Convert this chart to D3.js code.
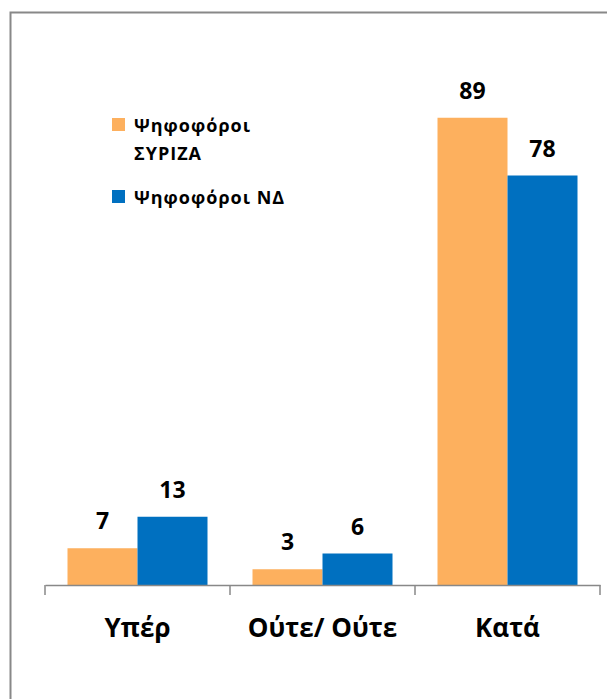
<!DOCTYPE html>
<html><head><meta charset="utf-8">
<script src="https://cdn.jsdelivr.net/npm/d3@7"></script>
<style>body{margin:0;background:#fff}svg{display:block}</style>
</head><body>
<script>
const categories = ["Υπέρ", "Ούτε/ Ούτε", "Κατά"];
const seriesNames = ["Ψηφοφόροι ΣΥΡΙΖΑ", "Ψηφοφόροι ΝΔ"];
const syrizaValues = [7, 3, 89];
const ndValues = [13, 6, 78];
const colors = ["#FDB05E", "#0070C0"];

const W = 607, H = 699;
const svg = d3.select("body").append("svg").attr("width", W).attr("height", H);
const font = "'Open Sans', 'Noto Sans', sans-serif";

// outer border
svg.append("rect").attr("x", 10.5).attr("y", 12.5).attr("width", 620).attr("height", 720)
  .attr("fill", "none").attr("stroke", "#888").attr("stroke-width", 2);

const x0 = d3.scaleBand().domain(categories).range([45, 600]).paddingInner(0).paddingOuter(0);
const x1 = d3.scaleBand().domain([0, 1]).range([22.5, x0.bandwidth() - 22.5]);
const y = d3.scaleLinear().domain([0, 100]).range([585, 60]);

const data = categories.map((c, i) => ({cat: c, vals: [syrizaValues[i], ndValues[i]]}));

const g = svg.selectAll("g.cat").data(data).enter().append("g")
  .attr("transform", d => `translate(${x0(d.cat)},0)`);
g.selectAll("rect").data(d => d.vals).enter().append("rect")
  .attr("x", (v, j) => x1(j)).attr("width", x1.bandwidth())
  .attr("y", v => y(v)).attr("height", v => y(0) - y(v))
  .attr("fill", (v, j) => colors[j]);
g.selectAll("text.val").data(d => d.vals).enter().append("text")
  .attr("x", (v, j) => x1(j) + x1.bandwidth() / 2).attr("y", v => y(v) - 19)
  .attr("text-anchor", "middle").attr("font-family", font).attr("font-weight", "bold")
  .attr("font-size", 23).attr("fill", "#000").text(v => v);

// axis
const axis = d3.axisBottom(x0).tickSize(0).tickFormat(d => d);
const ax = svg.append("g").attr("transform", "translate(0,585)").call(axis);
ax.select(".domain").attr("stroke", "#888").attr("stroke-width", 1.5);
ax.selectAll(".tick line").remove();
ax.selectAll(".tick text").attr("font-family", font).attr("font-weight", "bold")
  .attr("font-size", 26).attr("fill", "#000").attr("dy", 0).attr("y", 52);
// boundary tick marks
const bounds = x0.domain().map(d => x0(d)).concat([x0.range()[1]]);
svg.selectAll("line.btick").data(bounds).enter().append("line")
  .attr("x1", d => d).attr("x2", d => d).attr("y1", 585).attr("y2", 595)
  .attr("stroke", "#888").attr("stroke-width", 1.5);

// legend
const leg = svg.append("g").attr("font-family", font).attr("font-weight", "bold")
  .attr("font-size", 18).attr("letter-spacing", 1);
leg.append("rect").attr("x", 112).attr("y", 118).attr("width", 13).attr("height", 13).attr("fill", colors[0]);
leg.append("text").attr("x", 134).attr("y", 132).text("Ψηφοφόροι");
leg.append("text").attr("x", 134).attr("y", 160).text("ΣΥΡΙΖΑ");
leg.append("rect").attr("x", 112).attr("y", 190).attr("width", 13).attr("height", 13).attr("fill", colors[1]);
leg.append("text").attr("x", 134).attr("y", 204).text(seriesNames[1]);
</script>
</body></html>
